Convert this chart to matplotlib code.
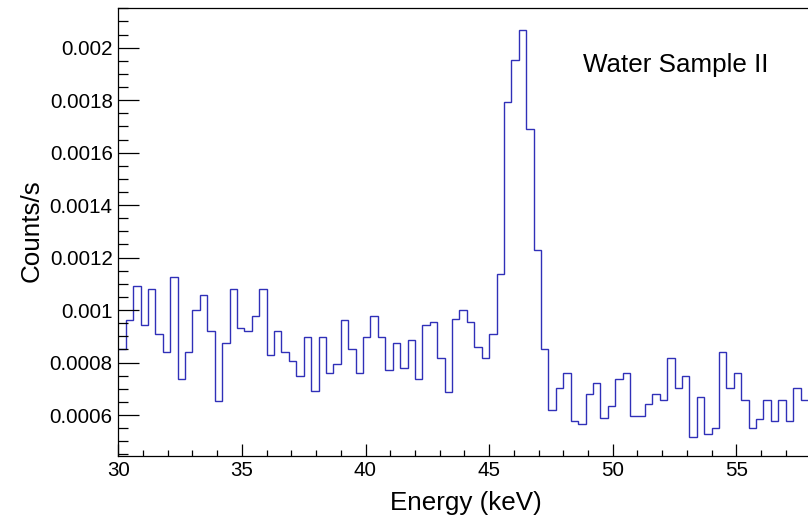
import numpy as np
import matplotlib
matplotlib.use("Agg")
import matplotlib.pyplot as plt
from matplotlib.ticker import MultipleLocator, FixedLocator

plt.rcParams['font.family'] = ['Liberation Sans', 'DejaVu Sans']

# ---- data ----
bin_start = 30.0
bin_width = 0.3
counts_per_s = [
    0.00085, 0.000964, 0.001092, 0.000943, 0.00108, 0.000908, 0.00084, 0.001126,
    0.000736, 0.00084, 0.001, 0.001058, 0.00092, 0.000654, 0.000874, 0.00108,
    0.000931, 0.00092, 0.000977, 0.00108, 0.000828, 0.00092, 0.00084, 0.000806,
    0.000747, 0.000897, 0.00069, 0.000897, 0.000759, 0.000793, 0.000964, 0.00085,
    0.000759, 0.000897, 0.000977, 0.000897, 0.00077, 0.000874, 0.000781, 0.000885,
    0.000736, 0.000943, 0.000954, 0.000816, 0.000689, 0.000965, 0.001, 0.000954,
    0.000861, 0.000816, 0.000908, 0.001138, 0.001794, 0.001952, 0.002067, 0.001689,
    0.001229, 0.00085, 0.00062, 0.000702, 0.000759, 0.000576, 0.000565, 0.000679,
    0.000724, 0.000587, 0.000633, 0.000736, 0.000759, 0.000597, 0.000597, 0.000644,
    0.000679, 0.000656, 0.000816, 0.000702, 0.000747, 0.000518, 0.000667, 0.000529,
    0.000552, 0.000839, 0.000702, 0.000759, 0.000656, 0.000552, 0.000586, 0.000656,
    0.000576, 0.000656, 0.000576, 0.000702, 0.000656,
]
x_ticks = [30, 35, 40, 45, 50, 55]
x_tick_labels = ["30", "35", "40", "45", "50", "55"]
y_ticks = [0.0006, 0.0008, 0.001, 0.0012, 0.0014, 0.0016, 0.0018, 0.002]
y_tick_labels = ["0.0006", "0.0008", "0.001", "0.0012", "0.0014", "0.0016", "0.0018", "0.002"]
title_text = "Water Sample II"
x_label = "Energy (keV)"
y_label = "Counts/s"

edges = bin_start + bin_width * np.arange(len(counts_per_s) + 1)

W, H = 808, 525
fig = plt.figure(figsize=(W / 100, H / 100), dpi=100)
# axes: left 118.3px, bottom 456px, top 8.3px, x range 30-60 (extends past the crop)
ax = fig.add_axes([118.3 / W, (H - 456) / H, 741.6 / W, (456 - 8.3) / H])

ax.stairs(counts_per_s, edges, baseline=None, color='#3030b8', linewidth=1.0)

ax.set_xlim(30, 60)
ax.set_ylim(0.000444, 0.00215)

ax.xaxis.set_major_locator(FixedLocator(x_ticks))
ax.set_xticklabels(x_tick_labels)
ax.xaxis.set_minor_locator(MultipleLocator(1))
ax.yaxis.set_major_locator(FixedLocator(y_ticks))
ax.set_yticklabels(y_tick_labels)
ax.yaxis.set_minor_locator(MultipleLocator(0.00005))

ax.tick_params(axis='both', which='both', direction='in', labelsize=14.8, width=0.9, color='black')
ax.tick_params(axis='x', which='major', length=8.6, pad=3.5)
ax.tick_params(axis='x', which='minor', length=4.3)
ax.tick_params(axis='y', which='major', length=15, pad=4)
ax.tick_params(axis='y', which='minor', length=7)

for s in ax.spines.values():
    s.set_linewidth(0.9)

fig.text(583 / W, 1 - 71.7 / H, title_text, fontsize=18.7, ha='left', va='baseline')
fig.text(465.7 / W, 1 - 510 / H, x_label, fontsize=18.7, ha='center', va='baseline')
fig.text(32 / W, 1 - 231 / H, y_label, fontsize=18.7, ha='center', va='center', rotation=90)

fig.savefig("out.png", dpi=100)
